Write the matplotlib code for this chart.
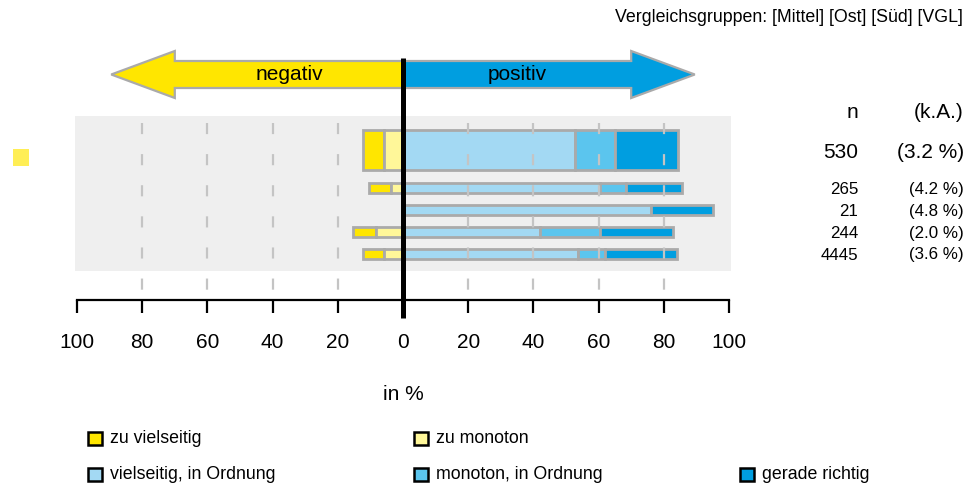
import matplotlib
matplotlib.use("Agg")
import matplotlib.pyplot as plt
from matplotlib.patches import Rectangle, Polygon
import numpy as np

plt.rcParams['font.family'] = ['Liberation Sans', 'DejaVu Sans']

# data: one main group plus the four comparison groups (top to bottom)
zu_vielseitig = [6.6, 6.5, 0.0, 7.0, 6.5]
zu_monoton = [5.8, 3.8, 0.0, 8.3, 5.8]
vielseitig_ok = [52.9, 60.4, 76.2, 42.0, 53.8]
monoton_ok = [12.2, 8.0, 0.0, 18.4, 8.2]
gerade_richtig = [19.3, 17.1, 19.0, 22.3, 22.1]
n_values = ["530", "265", "21", "244", "4445"]
ka_values = ["(3.2 %)", "(4.2 %)", "(4.8 %)", "(2.0 %)", "(3.6 %)"]
tick_vals = [-100, -80, -60, -40, -20, 0, 20, 40, 60, 80, 100]

categories = ["zu vielseitig", "zu monoton", "vielseitig, in Ordnung",
              "monoton, in Ordnung", "gerade richtig"]
colors = ["#ffe600", "#fff799", "#a3d9f3", "#5bc5ee", "#009ee0"]
edge = "#aaaaaa"

W, H = 971, 488


def fx(x):
    return x / W


def fy(y):
    return 1 - y / H


fig = plt.figure(figsize=(W / 100, H / 100), dpi=100)
# axes in pixel rows on y, percent on x
ax = fig.add_axes([fx(77), fy(300), (729 - 77) / W, (300 - 40) / H])
ax.set_xlim(-100, 100)
ax.set_ylim(300, 40)
ax.patch.set_alpha(0)

row_y = [150.5, 188.5, 210.5, 232.0, 254.0]
row_h = [40, 10, 10, 10, 10]

# grey background band
ax.add_patch(Rectangle((-100.5, 116.5), 201, 154.5, facecolor="#efefef",
                       edgecolor="none", zorder=0, clip_on=False))

zv = np.array(zu_vielseitig)
zm = np.array(zu_monoton)
vo = np.array(vielseitig_ok)
mo = np.array(monoton_ok)
gr = np.array(gerade_richtig)

segments = [
    (zv, -(zv + zm)),
    (zm, -zm),
    (vo, np.zeros_like(vo)),
    (mo, vo),
    (gr, vo + mo),
]
for (w, l), c in zip(segments, colors):
    mask = w > 0
    ax.barh(np.array(row_y)[mask], w[mask], left=l[mask],
            height=np.array(row_h)[mask], color=c, edgecolor=edge,
            linewidth=2, zorder=2)

# dashed grid lines
for v in [-80, -60, -40, -20, 20, 40, 60, 80]:
    ax.plot([v, v], [123, 300], color="#c4c4c4", lw=1.6,
            dashes=(5, 9), zorder=3, clip_on=False)

# direction arrows
sy0, sy1, hy0, hy1, cy = 61, 88, 51, 98, 74.5
for sgn, c, label in [(-1, "#ffe600", "negativ"), (1, "#009ee0", "positiv")]:
    pts = [(0, sy0), (sgn * 70, sy0), (sgn * 70, hy0), (sgn * 89.5, cy),
           (sgn * 70, hy1), (sgn * 70, sy1), (0, sy1)]
    ax.add_patch(Polygon(pts, closed=True, facecolor=c, edgecolor=edge,
                         linewidth=1.6, zorder=3, clip_on=False))
    ax.text(sgn * 35, cy, label, ha="center", va="center", fontsize=15,
            zorder=5)

# zero line
ax.plot([0, 0], [58, 318], color="black", lw=3.6, zorder=6,
        clip_on=False, solid_capstyle="butt")

# axis
for s in ["left", "right", "top"]:
    ax.spines[s].set_visible(False)
ax.spines["bottom"].set_linewidth(1.6)
ax.set_yticks([])
ax.set_xticks(tick_vals)
ax.set_xticklabels([str(abs(v)) for v in tick_vals])
ax.tick_params(axis="x", direction="out", length=9.5, width=1.6,
               labelsize=15, pad=14)
ax.text(0, 395, "in %", ha="center", va="center", fontsize=15,
        clip_on=False)

# small marker at left
fig.patches.append(Rectangle((fx(13), fy(165.5)), 16 / W, 16 / H,
                             transform=fig.transFigure, facecolor="#ffee55",
                             edgecolor="none"))

# n / k.A. column, aligned with the bars
fig.text(fx(858), fy(118), "n", ha="right", va="baseline", fontsize=15)
fig.text(fx(963), fy(118), "(k.A.)", ha="right", va="baseline", fontsize=15)
for i, (nv, kv) in enumerate(zip(n_values, ka_values)):
    fs = 15 if i == 0 else 12.2
    base = row_y[i] + (7.8 if i == 0 else 5.5)
    fig.text(fx(858), fy(base), nv, ha="right", va="baseline", fontsize=fs)
    fig.text(fx(964), fy(base), kv, ha="right", va="baseline", fontsize=fs)

fig.text(fx(963), fy(17), "Vergleichsgruppen: [Mittel] [Ost] [Süd] [VGL]",
         ha="right", va="center", fontsize=12.8)

# legend (row-major, fixed columns)
leg_pos = [(87, 438.5), (413, 438.5), (87, 474.5), (413, 474.5), (739, 474.5)]
for (x, y), lab, c in zip(leg_pos, categories, colors):
    fig.patches.append(Rectangle((fx(x + 1), fy(y + 6.5)), 14 / W, 13 / H,
                                 transform=fig.transFigure, facecolor=c,
                                 edgecolor="black", linewidth=1.8))
    fig.text(fx(x + 23), fy(y), lab, ha="left", va="center", fontsize=12.8)

fig.savefig("out.png", dpi=100)
